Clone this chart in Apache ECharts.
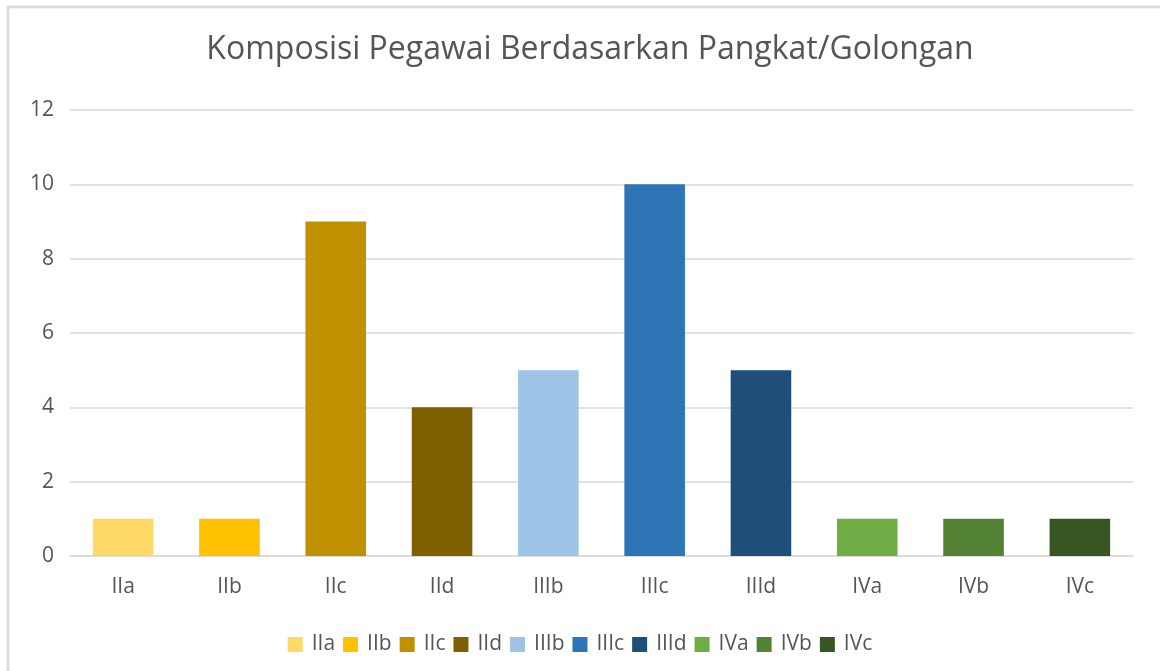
<!DOCTYPE html>
<html>
<head>
<meta charset="utf-8">
<script src="https://cdn.jsdelivr.net/npm/echarts@6/dist/echarts.min.js"></script>
<style>
html,body{margin:0;padding:0;background:#fff;}
#chart{width:1160px;height:671px;}
</style>
</head>
<body>
<div id="chart"></div>
<script>
const categories = ['IIa','IIb','IIc','IId','IIIb','IIIc','IIId','IVa','IVb','IVc'];
const values = [1,1,9,4,5,10,5,1,1,1];
const colors = ['#FFD966','#FFC000','#BF9000','#7F6000','#9DC3E6','#2E75B6','#1F4E79','#70AD47','#548235','#375623'];
const yTicks = { min: 0, max: 12, interval: 2 };
const titleText = 'Komposisi Pegawai Berdasarkan Pangkat/Golongan';

const chart = echarts.init(document.getElementById('chart'));
const series = categories.map((name, i) => ({
  name: name,
  type: 'bar',
  stack: 'total',
  barWidth: '57%',
  itemStyle: { color: colors[i] },
  data: categories.map((c, j) => (j === i ? values[i] : null)),
  emphasis: { disabled: true }
}));

chart.setOption({
  animation: false,
  backgroundColor: '#fff',
  graphic: [{
    type: 'rect',
    shape: { x: 8, y: 7, width: 1170, height: 700 },
    style: { fill: 'none', stroke: '#d9d9d9', lineWidth: 2.5 },
    silent: true
  }],
  title: {
    text: titleText,
    left: 585,
    textAlign: 'center',
    top: 29,
    textStyle: { fontFamily: 'Open Sans', fontSize: 32, fontWeight: 'normal', color: '#555555' }
  },
  legend: {
    data: categories,
    bottom: 11,
    left: 'center',
    itemWidth: 15,
    itemHeight: 15,
    itemGap: 8,
    icon: 'rect',
    textStyle: { fontFamily: 'Open Sans', fontSize: 21, color: '#555555', padding: [0, 0, 0, 4] }
  },
  grid: { left: 70, right: 27, top: 110, bottom: 115, containLabel: false },
  xAxis: {
    type: 'category',
    data: categories,
    axisLine: { show: true, lineStyle: { color: '#d9d9d9', width: 1.5 } },
    axisTick: { show: false },
    axisLabel: { fontFamily: 'Open Sans', fontSize: 21, color: '#555555', margin: 21 }
  },
  yAxis: {
    type: 'value',
    min: yTicks.min,
    max: yTicks.max,
    interval: yTicks.interval,
    axisLine: { show: false },
    axisTick: { show: false },
    splitLine: { lineStyle: { color: '#d9d9d9', width: 1.5 } },
    axisLabel: { fontFamily: 'Open Sans', fontSize: 21, color: '#555555', margin: 16 }
  },
  series: series
});
</script>
</body>
</html>
